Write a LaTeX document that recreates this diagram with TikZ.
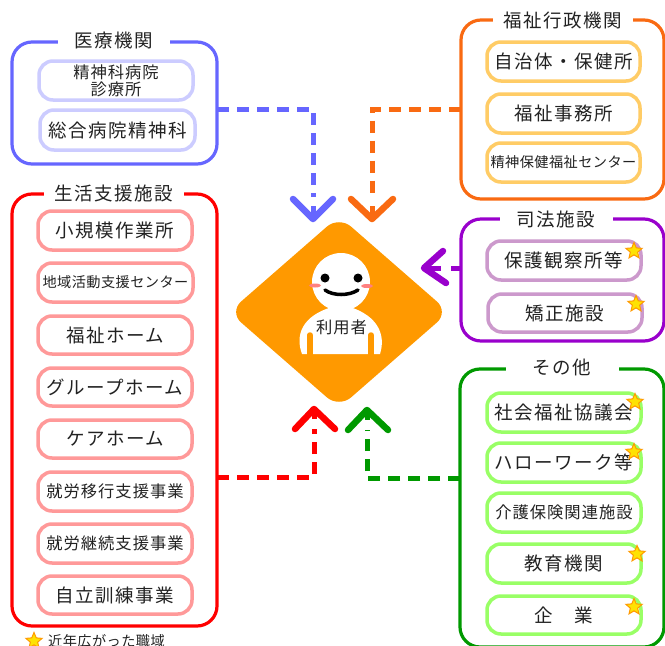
\documentclass[tikz,border=0pt]{standalone}
\usepackage{fontspec}
\setmainfont{Noto Sans CJK JP}
\usetikzlibrary{shapes.geometric}
\definecolor{cBlue}{HTML}{6666FF}\definecolor{cBlueL}{HTML}{CCCCFF}
\definecolor{cRed}{HTML}{FF0000}\definecolor{cRedL}{HTML}{FF9999}
\definecolor{cOr}{HTML}{F96A12}\definecolor{cOrL}{HTML}{FFCC66}
\definecolor{cPu}{HTML}{9900CC}\definecolor{cPuL}{HTML}{CC99CC}
\definecolor{cGr}{HTML}{009900}\definecolor{cGrL}{HTML}{99FF66}
\definecolor{cDia}{HTML}{FF9900}\definecolor{cInk}{HTML}{222222}
\tikzset{
 frame/.style={draw=#1,line width=3.2pt,rounded corners=20pt,fill=white,inner sep=0,outer sep=0},
 item/.style={draw=#1,line width=3.5pt,rounded corners=14pt,fill=white,inner sep=0,outer sep=0,text=cInk,align=center},
 txtL/.style={font=\fontsize{18.5}{20}\selectfont\addfontfeature{LetterSpace=8}},
 txtM/.style={font=\fontsize{16.3}{19}\selectfont\addfontfeature{LetterSpace=6}},
 txtS/.style={font=\fontsize{14.2}{17}\selectfont\addfontfeature{LetterSpace=3}},
 title/.style={fill=white,inner sep=0,minimum height=14pt,text=cInk,txtL},
 conn/.style={line width=5pt,dash pattern=on 12pt off 8pt,draw=#1},
 chev/.style={line width=6.5pt,line cap=round,line join=round,draw=#1},
 stub/.style={line width=5pt,draw=#1},
 goldstar/.style={star,star points=5,star point ratio=2.2,fill=yellow!85!orange,draw=orange!80!yellow,line width=1pt,minimum size=17pt,inner sep=0},
}
\begin{document}
\begin{tikzpicture}[x=1pt,y=-1pt]
\useasboundingbox (0,0) rectangle (665,646);
\clip (0,0) rectangle (665,646);
% frames
\node[frame=cBlue,minimum width=205pt,minimum height=122pt] (med) at (114.5,103) {};
\node[frame=cRed,minimum width=205pt,minimum height=432pt] (life) at (114.5,410) {};
\node[frame=cOr,minimum width=203pt,minimum height=179pt] (admin) at (562.5,109.5) {};
\node[frame=cPu,minimum width=203pt,minimum height=122pt] (just) at (562.5,280) {};
\node[frame=cGr,minimum width=204pt,minimum height=278pt] (other) at (562,508) {};
% titles
\node[title,minimum width=112pt] (tMed) at (114,40) {医療機関};
\node[title,minimum width=140pt] (tLife) at (114,193) {生活支援施設};
\node[title,minimum width=140pt] (tAdmin) at (563,20) {福祉行政機関};
\node[title,minimum width=113pt] (tJust) at (556,219) {司法施設};
\node[title,minimum width=113pt] (tOther) at (562,367) {その他};
% medical
\node[item=cBlueL,txtM,minimum width=154pt,minimum height=39pt] (m1) at (116,80.5) {精神科病院\\[-2pt]診療所};
\node[item=cBlueL,txtL,minimum width=155pt,minimum height=40pt] (m2) at (117.5,130) {総合病院精神科};
% life
\node[item=cRedL,txtL,minimum width=154pt,minimum height=39pt] (l1) at (115,230.5) {小規模作業所};
\node[item=cRedL,txtS,minimum width=155pt,minimum height=39pt] (l2) at (115.5,282.5) {地域活動支援センター};
\node[item=cRedL,txtL,minimum width=154pt,minimum height=38pt] (l3) at (115,335) {福祉ホーム};
\node[item=cRedL,txtL,minimum width=154pt,minimum height=38pt] (l4) at (115,387) {グループホーム};
\node[item=cRedL,txtL,minimum width=154pt,minimum height=38pt] (l5) at (115,439) {ケアホーム};
\node[item=cRedL,txtM,minimum width=154pt,minimum height=39pt] (l6) at (115,491.5) {就労移行支援事業};
\node[item=cRedL,txtM,minimum width=154pt,minimum height=39pt] (l7) at (115,543.5) {就労継続支援事業};
\node[item=cRedL,txtL,minimum width=154pt,minimum height=38pt] (l8) at (115,595) {自立訓練事業};
% admin
\node[item=cOrL,txtL,minimum width=153pt,minimum height=39pt] (a1) at (563.5,61.5) {自治体・保健所};
\node[item=cOrL,txtL,minimum width=153pt,minimum height=39pt] (a2) at (563.5,113.5) {福祉事務所};
\node[item=cOrL,txtS,minimum width=153pt,minimum height=39pt] (a3) at (563.5,162.5) {精神保健福祉センター};
% justice
\node[item=cPuL,txtL,minimum width=154pt,minimum height=39pt] (j1) at (564,260.5) {保護観察所等};
\node[item=cPuL,txtL,minimum width=154pt,minimum height=38pt] (j2) at (565,313) {矯正施設};
% other
\node[item=cGrL,txtL,minimum width=154pt,minimum height=39pt] (o1) at (564,412.5) {社会福祉協議会};
\node[item=cGrL,txtL,minimum width=154pt,minimum height=39pt] (o2) at (564,462.5) {ハローワーク等};
\node[item=cGrL,txtM,minimum width=154pt,minimum height=39pt] (o3) at (564,512.5) {介護保険関連施設};
\node[item=cGrL,txtL,minimum width=154pt,minimum height=39pt] (o4) at (564,563.5) {教育機関};
\node[item=cGrL,txtL,minimum width=154pt,minimum height=38pt] (o5) at (564,615) {企　業};
% stars
\node[goldstar] (s1) at (634,251) {};
\node[goldstar] (s2) at (636,304) {};
\node[goldstar] (s3) at (635,402) {};
\node[goldstar] (s4) at (634,452) {};
\node[goldstar] (s5) at (637,554) {};
\node[goldstar] (s6) at (634,607) {};
\node[goldstar] (s7) at (34,641) {};
\node[anchor=west,inner sep=0,text=cInk,txtS] (legend) at (48,641) {近年広がった職域};
% user diamond
\node[diamond,fill=cDia,rounded corners=16pt,minimum width=220pt,minimum height=192pt,aspect=1.145,inner sep=0] (user) at (339,312) {};
% person
\fill[white] (341,282) circle (29);
\fill[white] (331,300) rectangle (351,312);
\fill[white] (302,354) .. controls (295,335) and (302,316) .. (332,307) -- (350,307) .. controls (378,316) and (386,335) .. (380,354) -- cycle;
\draw[cDia,line width=5.5pt,line cap=round] (310,335) -- (310,356);
\draw[cDia,line width=5.5pt,line cap=round] (371,335) -- (371,356);
\fill (325,278) circle (4.5);
\fill (358,278) circle (4.5);
\fill[red!50!white] (315,285.5) ellipse (6 and 2);
\fill[red!50!white] (367,286) ellipse (6 and 2);
\draw[line width=3.5pt,line cap=round] (325,290) .. controls (333,296) and (349,296) .. (358,290);
\node[inner sep=0,text=cInk,txtM] (userLabel) at (341.5,327) {利用者};
% connector tips and ends
\coordinate (tipB) at (313,219);
\coordinate (tipO) at (372,219);
\coordinate (tipP) at (424,268);
\coordinate (tipR) at (314,409);
\coordinate (tipG) at (367,410);
\coordinate (endB) at (313,197);
\coordinate (endO) at (372,197);
\coordinate (endP) at (451,268);
\coordinate (endR) at (314,429);
\coordinate (endG) at (367,430);
% connectors
\draw[conn=cBlue] ([yshift=-6pt]med.east) -| (endB);
\draw[conn=cOr] (admin.west) -| (endO);
\draw[conn=cPu] ([yshift=12pt]just.west) -- (endP);
\draw[conn=cRed] ([yshift=-67pt]life.east) -| (endR);
\draw[conn=cGr] ([yshift=30pt]other.west) -| (endG);
% arrow heads with short stems
\draw[stub=cBlue] (tipB) -- ++(0,-13);
\draw[stub=cOr] (tipO) -- ++(0,-13);
\draw[stub=cPu] (tipP) -- ++(17,0);
\draw[stub=cRed] (tipR) -- ++(0,10);
\draw[stub=cGr] (tipG) -- ++(0,10);
\draw[chev=cBlue] (293,199) -- (tipB) -- (333,199);
\draw[chev=cOr] (351,199) -- (tipO) -- (393,199);
\draw[chev=cPu] (443,251) -- (tipP) -- (446,283);
\draw[chev=cRed] (295,429) -- (tipR) -- (335,429);
\draw[chev=cGr] (348,430) -- (tipG) -- (388,430);
\end{tikzpicture}
\end{document}
